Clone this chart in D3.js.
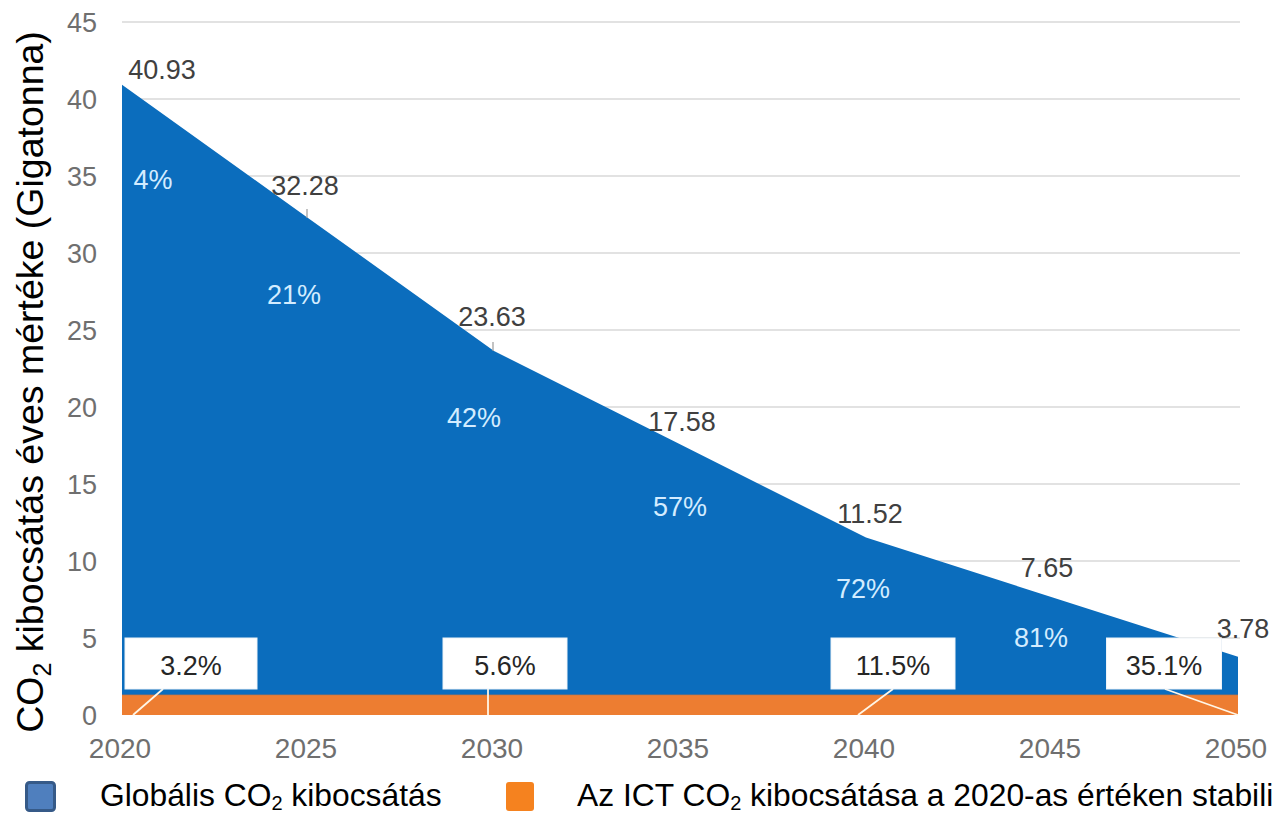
<!DOCTYPE html>
<html>
<head>
<meta charset="utf-8">
<script src="https://cdn.jsdelivr.net/npm/d3@7"></script>
<style>
  html, body { margin: 0; padding: 0; background: #ffffff; }
  svg { display: block; font-family: Arial, "Liberation Sans", sans-serif; }
</style>
</head>
<body>
<svg id="chart" width="1274" height="816"></svg>
<script>
// Global CO2 emissions pathway (Gt per year)
const years = [2020, 2025, 2030, 2035, 2040, 2045, 2050];
const globalCO2 = [40.93, 32.28, 23.63, 17.58, 11.52, 7.65, 3.78];
// ICT emissions held at the 2020 level
const ictCO2 = [1.32, 1.32, 1.32, 1.32, 1.32, 1.32, 1.32];
// Reduction percentages shown inside the area
const reductionYears = [2020, 2025, 2030, 2035, 2040, 2045];
const reductionLabels = ["4%", "21%", "42%", "57%", "72%", "81%"];
// ICT share of global emissions, called out at selected years
const shareYears = [2020, 2030, 2040, 2050];
const shareLabels = ["3.2%", "5.6%", "11.5%", "35.1%"];
// Axis ticks
const xTicks = [2020, 2025, 2030, 2035, 2040, 2045, 2050];
const yTicks = [0, 5, 10, 15, 20, 25, 30, 35, 40, 45];

// Label placement (pixel offsets from the data point)
const valueOffsets = [[40, -6], [-3, -23], [-2, -25], [2, -13], [4, -15], [-5, -20], [5, -19]];
const reductionOffsets = [[31, 104], [-14, 86], [-20, 76], [0, 72], [-3, 60], [-11, 50]];
// Callout boxes: [box centre dx, box width, leader top dx from box centre, leader bottom dx from point]
const calloutLayout = [[69, 132, -28, 11], [11, 124, -17, -6], [27, 124, 0, -8], [-74, 115, 1, 0]];

const BLUE = "#0b6dbd";
const ORANGE = "#ed7d31";

const svg = d3.select("#chart");
const x = d3.scaleLinear().domain([2020, 2050]).range([122, 1238]);
const y = d3.scaleLinear().domain([0, 45]).range([715, 22]);

// Gridlines
svg.append("g").selectAll("line").data(yTicks.filter(d => d > 0)).join("line")
  .attr("x1", 122).attr("x2", 1240)
  .attr("y1", d => y(d)).attr("y2", d => y(d))
  .attr("stroke", "#d9d9d9").attr("stroke-width", 1.5);

// Y tick labels
svg.append("g").selectAll("text").data(yTicks).join("text")
  .attr("x", 97).attr("y", d => y(d) + 9.5)
  .attr("text-anchor", "end")
  .attr("font-size", 27).attr("fill", "#6f6f6f")
  .text(d => d);

// X tick labels
svg.append("g").selectAll("text").data(xTicks).join("text")
  .attr("x", d => x(d) - 2).attr("y", 758)
  .attr("text-anchor", "middle")
  .attr("font-size", 28).attr("fill", "#6f6f6f")
  .text(d => d);

// Global emissions area
const globalData = years.map((yr, i) => ({ yr, v: globalCO2[i] }));
svg.append("path").datum(globalData)
  .attr("d", d3.area().x(d => x(d.yr)).y0(y(0)).y1(d => y(d.v)))
  .attr("fill", BLUE);

// ICT emissions area
const ictData = years.map((yr, i) => ({ yr, v: ictCO2[i] }));
svg.append("path").datum(ictData)
  .attr("d", d3.area().x(d => x(d.yr)).y0(y(0)).y1(d => y(d.v)))
  .attr("fill", ORANGE);
svg.append("line")
  .attr("x1", x(2020)).attr("x2", x(2050))
  .attr("y1", y(ictCO2[0])).attr("y2", y(ictCO2[0]))
  .attr("stroke", "#5d6f84").attr("stroke-width", 1).attr("opacity", 0.6);

// Value labels with short leaders where the label sits higher
const vl = svg.append("g");
globalData.forEach((d, i) => {
  const px = x(d.yr), py = y(d.v);
  const [dx, dy] = valueOffsets[i];
  if (dy <= -22) {
    vl.append("line")
      .attr("x1", px - 1).attr("x2", px - 1)
      .attr("y1", py - 9).attr("y2", py)
      .attr("stroke", "#9a9a9a").attr("stroke-width", 1.2);
  }
  vl.append("text")
    .attr("x", px + dx).attr("y", py + dy)
    .attr("text-anchor", "middle")
    .attr("font-size", 27).attr("fill", "#404040")
    .text(d.v.toFixed(2));
});

// Reduction percentages inside the area
reductionYears.forEach((yr, i) => {
  const idx = years.indexOf(yr);
  const [dx, dy] = reductionOffsets[i];
  svg.append("text")
    .attr("x", x(yr) + dx).attr("y", y(globalCO2[idx]) + dy)
    .attr("text-anchor", "middle")
    .attr("font-size", 27).attr("fill", "#d3ecff")
    .text(reductionLabels[i]);
});

// ICT share callouts
shareYears.forEach((yr, i) => {
  const [cdx, w, ltop, lbot] = calloutLayout[i];
  const px = x(yr);
  const cx = px + cdx;
  const boxTop = 638, boxH = 51;
  svg.append("line")
    .attr("x1", cx + ltop).attr("y1", boxTop + boxH)
    .attr("x2", px + lbot).attr("y2", y(0))
    .attr("stroke", "#fff6e6").attr("stroke-width", 1.8);
  svg.append("rect")
    .attr("x", cx - w / 2).attr("y", boxTop)
    .attr("width", w).attr("height", boxH)
    .attr("fill", "#ffffff").attr("stroke", "#eef3f8").attr("stroke-width", 1);
  svg.append("text")
    .attr("x", cx).attr("y", boxTop + 37)
    .attr("text-anchor", "middle")
    .attr("font-size", 27).attr("fill", "#262626")
    .text(shareLabels[i]);
});

// Y axis title
const yTitle = svg.append("text")
  .attr("transform", "translate(43,382) rotate(-90)")
  .attr("text-anchor", "middle")
  .attr("font-size", 37.5).attr("fill", "#000000");
yTitle.append("tspan").text("CO");
yTitle.append("tspan").attr("font-size", 25).attr("dy", 8).text("2");
yTitle.append("tspan").attr("dy", -8).text(" kibocsátás éves mértéke (Gigatonna)");

// Legend
const lg = svg.append("g");
lg.append("rect").attr("x", 26.5).attr("y", 782.5).attr("width", 28).attr("height", 28)
  .attr("rx", 3).attr("fill", "#4f7fbe").attr("stroke", "#365a88").attr("stroke-width", 3);
const lt1 = lg.append("text").attr("x", 100).attr("y", 806).attr("font-size", 31.8).attr("fill", "#000");
lt1.append("tspan").text("Globális CO");
lt1.append("tspan").attr("font-size", 20).attr("dy", 4).text("2");
lt1.append("tspan").attr("dy", -4).text(" kibocsátás");

lg.append("rect").attr("x", 506).attr("y", 782).attr("width", 28).attr("height", 29)
  .attr("rx", 3).attr("fill", "#f5821f");
const lt2 = lg.append("text").attr("x", 577).attr("y", 806).attr("font-size", 31.8).attr("fill", "#000");
lt2.append("tspan").text("Az ICT CO");
lt2.append("tspan").attr("font-size", 20).attr("dy", 4).text("2");
lt2.append("tspan").attr("dy", -4).text(" kibocsátása a 2020-as értéken stabili");
</script>
</body>
</html>
